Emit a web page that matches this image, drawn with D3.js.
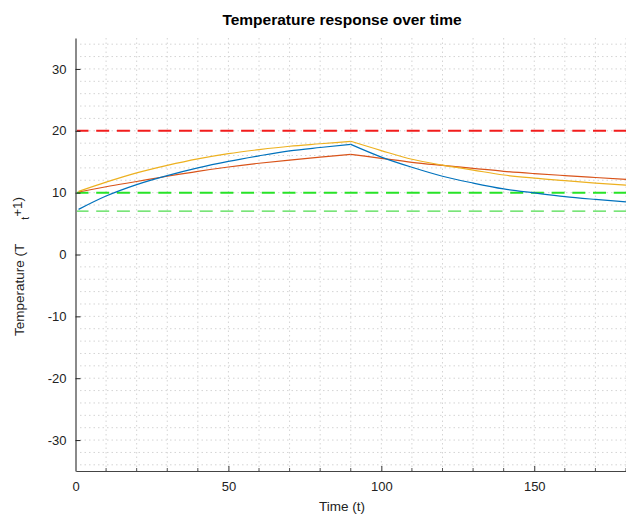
<!DOCTYPE html>
<html>
<head>
<meta charset="utf-8">
<script src="https://cdn.jsdelivr.net/npm/d3@7"></script>
<style>
  body { margin: 0; background: #fff; }
  svg { display: block; font-family: "Liberation Sans", Arial, sans-serif; }
</style>
</head>
<body>
<svg id="chart" width="626" height="516"></svg>
<script>
// time steps
const times = [1, 10, 20, 30, 40, 50, 60, 70, 80, 90, 100, 110, 120, 130, 140, 150, 160, 170, 180];
const blueSeries   = [7.3, 9.45, 11.3, 12.75, 14.0, 15.05, 15.95, 16.75, 17.3, 17.8, 15.75, 14.1, 12.65, 11.55, 10.6, 9.95, 9.35, 8.9, 8.5];
const redSeries    = [10.1, 10.95, 11.8, 12.65, 13.45, 14.15, 14.75, 15.27, 15.75, 16.2, 15.55, 14.9, 14.4, 13.93, 13.45, 13.08, 12.76, 12.45, 12.15];
const orangeSeries = [10.2, 11.7, 13.2, 14.4, 15.45, 16.3, 16.95, 17.5, 17.9, 18.3, 16.8, 15.4, 14.45, 13.65, 12.85, 12.35, 11.95, 11.55, 11.2];
const switchTime = 90;
// horizontal reference levels
const refLevels = [20, 10, 7];
const yTicks = [-30, -20, -10, 0, 10, 20, 30];
const xTicks = [0, 50, 100, 150];

const svg = d3.select('#chart');
const mLeft = 75.5, mRight = 626, mTop = 38, mBottom = 471;

const x = d3.scaleLinear().domain([0, 180]).range([mLeft, mRight]);
const y = d3.scaleLinear().domain([-35, 35]).range([mBottom, mTop]);

// dotted grid
const grid = svg.append('g').attr('class', 'grid')
  .attr('stroke', '#d4d4d4').attr('stroke-width', 1).attr('stroke-dasharray', '1.5,3');
grid.selectAll('line.v')
  .data(d3.range(10, 181, 10))
  .enter().append('line')
  .attr('x1', d => x(d)).attr('x2', d => x(d))
  .attr('y1', mTop).attr('y2', mBottom);
grid.selectAll('line.h')
  .data(d3.range(-34, 35, 2))
  .enter().append('line')
  .attr('x1', mLeft).attr('x2', mRight)
  .attr('y1', d => y(d)).attr('y2', d => y(d));

// reference lines
const refStyle = [
  { color: '#f21d1d', width: 2 },
  { color: '#27e327', width: 2 },
  { color: '#4ddb4d', width: 1.2 }
];
svg.append('g').selectAll('line')
  .data(refLevels)
  .enter().append('line')
  .attr('x1', mLeft).attr('x2', mRight)
  .attr('y1', d => y(d)).attr('y2', d => y(d))
  .attr('stroke', (d, i) => refStyle[i].color)
  .attr('stroke-width', (d, i) => refStyle[i].width)
  .attr('stroke-dasharray', '13,7.7');

// series curves, heating and cooling parts drawn separately so the peak stays sharp
const line = d3.line()
  .x(d => x(d[0]))
  .y(d => y(d[1]))
  .curve(d3.curveMonotoneX);

const series = [
  { values: redSeries, color: '#D95319' },
  { values: orangeSeries, color: '#EDB120' },
  { values: blueSeries, color: '#0072BD' }
];
const $curves = svg.append('g');
series.forEach(s => {
  const pts = times.map((t, i) => [t, s.values[i]]);
  const heat = pts.filter(p => p[0] <= switchTime);
  const cool = pts.filter(p => p[0] >= switchTime);
  [heat, cool].forEach(part => {
    $curves.append('path')
      .datum(part)
      .attr('d', line)
      .attr('fill', 'none')
      .attr('stroke', s.color)
      .attr('stroke-width', 1.2);
  });
});

// axes
const xAxis = svg.append('g')
  .attr('transform', `translate(0,${mBottom})`)
  .call(d3.axisBottom(x).tickValues(xTicks).tickSizeInner(-5).tickSizeOuter(0).tickPadding(11)
    .tickFormat(d => String(d)));
xAxis.select('.domain').attr('stroke', '#444').attr('stroke-width', 1.2);
xAxis.selectAll('.tick line').attr('stroke', '#333');

// minor x ticks
svg.append('g').selectAll('line')
  .data(d3.range(10, 181, 10).filter(d => d % 50 !== 0))
  .enter().append('line')
  .attr('x1', d => x(d)).attr('x2', d => x(d))
  .attr('y1', mBottom).attr('y2', mBottom - 3)
  .attr('stroke', '#555');

const yAxis = svg.append('g')
  .attr('transform', `translate(${mLeft},0)`)
  .call(d3.axisLeft(y).tickValues(yTicks).tickSizeInner(-5).tickSizeOuter(0).tickPadding(9)
    .tickFormat(d => String(d)));
yAxis.select('.domain').attr('stroke', '#8a8a8a').attr('stroke-width', 2);
yAxis.selectAll('.tick line').attr('stroke', '#222');

svg.selectAll('.tick text')
  .attr('font-family', '"Liberation Sans", Arial, sans-serif')
  .attr('font-size', 13)
  .attr('fill', '#222');

// title and labels
svg.append('text')
  .attr('x', 342).attr('y', 25)
  .attr('text-anchor', 'middle')
  .attr('font-size', 15.5).attr('font-weight', 'bold')
  .attr('fill', '#000')
  .text('Temperature response over time');

svg.append('text')
  .attr('x', 342).attr('y', 511)
  .attr('text-anchor', 'middle')
  .attr('font-size', 13.5).attr('fill', '#222')
  .text('Time (t)');

const ylab = svg.append('text')
  .attr('transform', 'translate(24,336) rotate(-90)')
  .attr('font-size', 13.5).attr('fill', '#222');
ylab.append('tspan').text('Temperature (T');
ylab.append('tspan').attr('dx', 24).attr('dy', 5).attr('font-size', 10.5).text('t');
ylab.append('tspan').attr('dx', 0).attr('dy', -7).text('+1)');
</script>
</body>
</html>
